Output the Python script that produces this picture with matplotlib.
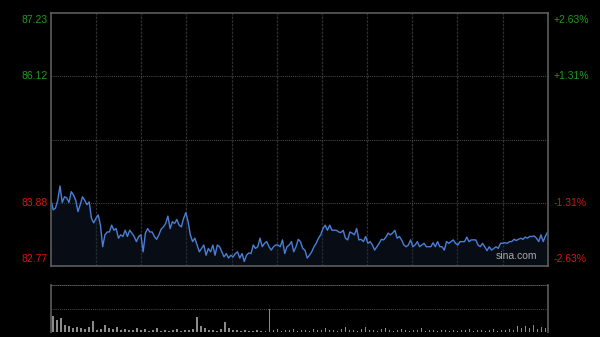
import matplotlib
matplotlib.use('Agg')
import matplotlib.pyplot as plt
import numpy as np

# intraday price (previous close 85.00)
prev_close = 85.00
y_low, y_high = 82.77, 87.23
left_ticks = [87.23, 86.12, 83.88, 82.77]
right_ticks = ['+2.63%', '+1.31%', '-1.31%', '-2.63%']

price = [
    83.93, 83.76, 83.79, 83.93, 84.18, 83.89, 83.99, 83.97, 83.89, 84.08, 84.02, 83.93, 83.73, 83.85, 83.99,
    83.93, 83.85, 83.90, 83.61, 83.53, 83.61, 83.67, 83.49, 83.11, 83.32, 83.37, 83.37, 83.49, 83.40, 83.43,
    83.26, 83.32, 83.29, 83.40, 83.29, 83.40, 83.35, 83.29, 83.20, 83.29, 83.32, 83.02, 83.35, 83.43, 83.37,
    83.37, 83.29, 83.24, 83.32, 83.42, 83.46, 83.52, 83.65, 83.43, 83.55, 83.52, 83.59, 83.49, 83.46, 83.61,
    83.71, 83.55, 83.32, 83.20, 83.26, 83.14, 83.02, 83.08, 83.14, 82.96, 83.08, 83.02, 83.14, 82.96, 83.14,
    83.11, 83.02, 82.93, 82.99, 82.91, 82.96, 82.93, 82.99, 83.02, 82.91, 82.99, 82.85, 82.96, 83.00, 82.99,
    83.14, 83.08, 83.11, 83.26, 83.11, 83.17, 83.20, 83.11, 83.05, 83.11, 83.14, 83.14, 83.11, 83.23, 82.99,
    83.11, 83.14, 83.20, 83.02, 83.11, 83.24, 83.20, 83.08, 83.05, 82.91, 82.96, 83.02, 83.11, 83.17, 83.26,
    83.32, 83.43, 83.49, 83.40, 83.49, 83.40, 83.40, 83.40, 83.37, 83.36, 83.40, 83.26, 83.23, 83.37,
    83.35, 83.32, 83.43, 83.23, 83.24, 83.20, 83.29, 83.17, 83.20, 83.14, 83.05, 83.11, 83.17, 83.24, 83.23,
    83.28, 83.35, 83.32, 83.35, 83.40, 83.26, 83.29, 83.23, 83.14, 83.11, 83.14, 83.23, 83.11, 83.14, 83.20,
    83.11, 83.14, 83.17, 83.11, 83.11, 83.11, 83.18, 83.11, 83.20, 83.11, 83.11, 83.05, 83.20,
    83.17, 83.20, 83.23, 83.17, 83.14, 83.20, 83.20, 83.20, 83.28, 83.20, 83.23, 83.23, 83.23, 83.14, 83.11,
    83.17, 83.11, 83.04, 83.11, 83.05, 83.08, 83.11, 83.08, 83.17, 83.17, 83.18, 83.17, 83.20, 83.20, 83.24,
    83.22, 83.24, 83.26, 83.24, 83.28, 83.26, 83.29, 83.29, 83.30, 83.26, 83.20, 83.32, 83.20, 83.30, 83.37,
]

# volume bars (relative units, panel max 100)
volume = [
    34, 25, 30, 14, 12, 9, 10, 8, 7, 10, 24, 4, 6, 15, 9, 6, 10, 5, 7, 4,
    5, 9, 4, 6, 3, 4, 9, 3, 5, 3, 4, 6, 3, 5, 4, 6, 31, 12, 8, 4,
    5, 3, 6, 22, 8, 5, 4, 3, 4, 3, 2, 4, 3, 3, 50, 4, 6, 3, 5, 4,
    6, 3, 4, 5, 3, 6, 4, 5, 8, 4, 5, 3, 6, 10, 4, 5, 3, 6, 10, 4,
    5, 3, 6, 8, 4, 3, 5, 7, 4, 3, 5, 4, 9, 3, 5, 4, 3, 5, 4, 3,
    4, 3, 5, 4, 6, 3, 4, 5, 3, 4, 6, 3, 5, 4, 6, 5, 12, 8, 12, 9,
    14, 7, 10, 8,
]

green = '#1f9b1f'
red = '#d4150f'
grid_c = '#303030'
border_c = '#5c5c5c'

fig = plt.figure(figsize=(6, 3.37), dpi=100, facecolor='black')
plt.rcParams['font.family'] = ['Liberation Sans', 'DejaVu Sans']

# main price panel
ax = fig.add_axes([51 / 600, 1 - 266 / 337, 496.7 / 600, 253 / 337], facecolor='black')
x = np.arange(len(price))
ax.fill_between(x, price, y_low, color='#152036', alpha=0.4, linewidth=0)
ax.plot(x, price, color='#4a7fd6', linewidth=1.0)
ax.set_xlim(0, len(price) - 1)
ax.set_ylim(y_low, y_high)

for k in range(1, 11):
    ax.axvline((len(price) - 1) * k / 11, color=grid_c, linestyle=(0, (2, 1)), linewidth=0.9, zorder=0)
for lvl in [86.12, prev_close, 83.88]:
    ax.axhline(lvl, color='#6a6a6a', linestyle=(0, (1, 1.5)), linewidth=0.6, zorder=0)

for s in ax.spines.values():
    s.set_color(border_c)
    s.set_linewidth(1.2)
ax.set_xticks([])
ax.set_yticks([])

tick_va = ['top', 'center', 'center', 'bottom']
for val, pct, va in zip(left_ticks, right_ticks, tick_va):
    col = green if val > prev_close else red
    yy = val + (-0.04 if va == 'top' else 0.04 if va == 'bottom' else 0)
    ax.text(-0.007, yy, f'{val:.2f}', transform=ax.get_yaxis_transform(), ha='right', va=va,
            color=col, fontsize=7.5)
    ax.text(1.011, yy, pct, transform=ax.get_yaxis_transform(), ha='left', va=va,
            color=col, fontsize=7.5)

ax.text(0.979, 0.018, 'sina.com', transform=ax.transAxes, ha='right', va='bottom',
        color='#a8a8a8', fontsize=7.5)

# volume panel
vax = fig.add_axes([51 / 600, 1 - 332 / 337, 496.7 / 600, 47 / 337], facecolor='black')
vx = np.arange(len(volume))
vax.bar(vx, volume, width=0.4, color='#8a8a8a', linewidth=0)
vax.set_xlim(-0.5, len(volume) - 0.5)
vax.set_ylim(0, 100)
vax.axhline(50, color='#6a6a6a', linestyle=(0, (1, 1.5)), linewidth=0.6)
vax.spines['top'].set_linestyle((0, (1, 1.5)))
vax.spines['top'].set_color('#6a6a6a')
vax.spines['top'].set_linewidth(0.6)
vax.spines['bottom'].set_visible(False)
for side in ['left', 'right']:
    vax.spines[side].set_color(border_c)
    vax.spines[side].set_linewidth(1.2)
vax.set_xticks([])
vax.set_yticks([])

plt.savefig('out.png', dpi=100, facecolor='black')
